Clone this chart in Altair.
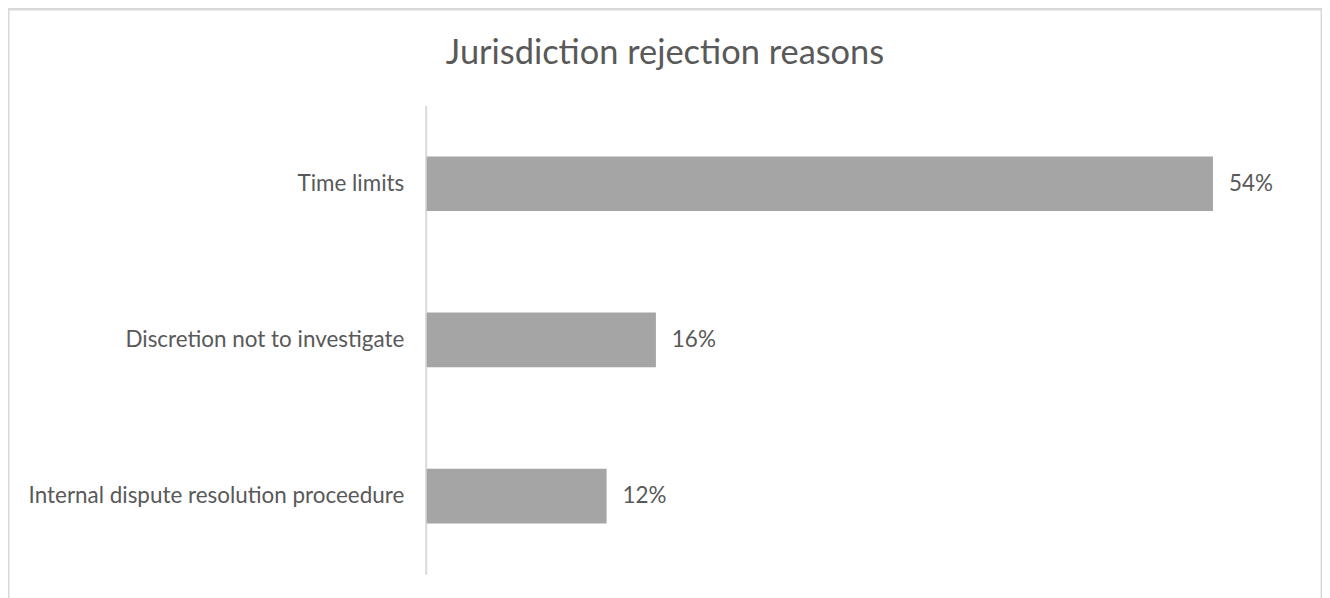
import altair as alt
import pandas as pd

categories = ["Time limits", "Discretion not to investigate", "Internal dispute resolution proceedure"]
values = [0.542, 0.158, 0.124]

df = pd.DataFrame({"reason": categories, "share": values})

FONT = "Lato"
TEXT = "#595959"

x_scale = alt.Scale(domain=[0, 0.6], range=[420, 1293], nice=False, zero=True)
y_scale = alt.Scale(range=[97, 567], paddingInner=0.65, paddingOuter=0.325)

base = alt.Chart(df).encode(
    y=alt.Y("reason:N", sort=categories, scale=y_scale,
            axis=alt.Axis(title=None, offset=-419, ticks=False, labelPadding=22,
                          domainColor="#D9D9D9", domainWidth=2,
                          labelFont=FONT, labelFontSize=22.5, labelColor=TEXT,
                          labelLimit=500)),
)

bars = base.mark_bar(color="#A5A5A5").encode(
    x=alt.X("share:Q", scale=x_scale, axis=None),
)

labels = base.mark_text(align="left", baseline="middle", dx=16, font=FONT,
                        fontSize=22.5, color=TEXT).encode(
    x=alt.X("share:Q", scale=x_scale, axis=None),
    text=alt.Text("share:Q", format=".0%"),
)

chart = alt.layer(bars, labels).properties(
    width=1318,
    height=600,
    padding=0,
    autosize="none",
    title=alt.TitleParams("Jurisdiction rejection reasons", font=FONT, fontSize=34.5,
                          fontWeight="normal", color=TEXT, anchor="middle",
                          offset=-90, baseline="alphabetic"),
).configure_view(stroke="#D9D9D9", strokeWidth=3)

chart.save("out.html", embed_options={"renderer": "svg", "actions": False})
